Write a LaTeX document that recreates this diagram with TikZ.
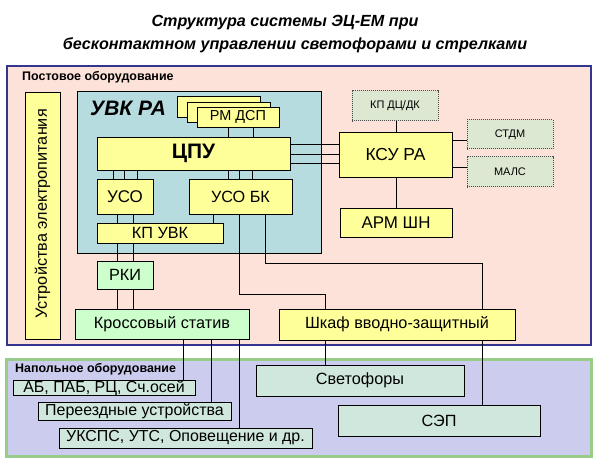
\documentclass[tikz,border=0pt]{standalone}
\usepackage{fontspec}
\setmainfont{Liberation Sans}
\definecolor{pinkbg}{HTML}{FDE2DA}
\definecolor{navy}{HTML}{34358F}
\definecolor{tealbg}{HTML}{B6DCDF}
\definecolor{ybox}{HTML}{FFFF99}
\definecolor{gbox}{HTML}{CCFFCC}
\definecolor{dbox}{HTML}{DDE8D2}
\definecolor{fbox}{HTML}{D0E7DD}
\definecolor{lav}{HTML}{CCCCEE}
\definecolor{fgreen}{HTML}{99CC88}
\tikzset{
  bx/.style={draw=black, line width=0.8bp, inner sep=0pt, font=\fontsize{16.3}{16.3}\selectfont},
  yb/.style={bx, fill=ybox},
  gb/.style={bx, fill=gbox},
  db/.style={draw=black!70, densely dotted, line width=1bp, fill=dbox, inner sep=0pt, font=\fontsize{11}{11}\selectfont},
  fb/.style={bx, fill=fbox},
  conn/.style={draw=black, line width=0.8bp},
  lbl/.style={font=\fontsize{12.5}{12.5}\selectfont\bfseries, inner sep=0pt, anchor=west},
  ttl/.style={font=\fontsize{16.2}{16.2}\selectfont\bfseries\itshape, inner sep=0pt, anchor=base},
}
\begin{document}
\begin{tikzpicture}[x=1bp,y=-1bp]
\useasboundingbox (0,0) rectangle (598,462);
\fill[white] (0,0) rectangle (598,462);
% title
\node[ttl] (title1) at (285,27) {Структура системы ЭЦ-ЕМ при};
\node[ttl] (title2) at (295,50) {бесконтактном управлении светофорами и стрелками};
% big areas
\node[draw=navy, line width=2.5bp, fill=pinkbg, inner sep=0pt, minimum width=584bp, minimum height=279bp] (post) at (299,205.5) {};
\node[draw=fgreen, line width=3bp, fill=lav, inner sep=0pt, minimum width=584bp, minimum height=97bp] (floor) at (299,407.5) {};
\node[lbl] (postlbl) at (22,77) {Постовое оборудование};
\node[lbl] (floorlbl) at (15,369) {Напольное оборудование};
% power
\node[yb, minimum width=35bp, minimum height=247bp] (power) at (42.5,215.5) {};
\node[rotate=90, font=\fontsize{16.3}{16.3}\selectfont, inner sep=0pt] (powertxt) at (42.5,214) {Устройства электропитания};
% UVK
\node[draw=black, line width=0.8bp, fill=tealbg, inner sep=0pt, minimum width=244bp, minimum height=162bp] (uvk) at (199,172) {};
\node[font=\fontsize{21}{21}\selectfont\bfseries\itshape, inner sep=0pt, anchor=west] (uvktxt) at (90,108) {УВК РА};
\node[yb, minimum width=83bp, minimum height=21bp] (rm3) at (218.5,106.5) {};
\node[yb, minimum width=83bp, minimum height=20bp] (rm2) at (228.5,112) {};
\node[yb, minimum width=82bp, minimum height=20bp, font=\fontsize{14.5}{14.5}\selectfont] (rm1) at (238,117) {РМ ДСП};
\node[yb, minimum width=193bp, minimum height=33bp, font=\fontsize{21}{21}\selectfont\bfseries] (cpu) at (193.5,153.5) {ЦПУ};
\node[yb, minimum width=56bp, minimum height=35bp, font=\fontsize{17}{17}\selectfont] (uso) at (125,196.5) {УСО};
\node[yb, minimum width=103bp, minimum height=35bp, font=\fontsize{16.3}{16.3}\selectfont] (usobk) at (240.5,196.5) {УСО БК};
\node[yb, minimum width=126bp, minimum height=20bp] (kpuvk) at (160,233) {КП УВК};
% lower post
\node[gb, minimum width=56bp, minimum height=28bp] (rki) at (125,275) {РКИ};
\node[gb, minimum width=174bp, minimum height=30bp] (kross) at (162,324) {Кроссовый статив};
\node[yb, minimum width=236bp, minimum height=31bp] (shkaf) at (397,324.5) {Шкаф вводно-защитный};
% KSU
\node[yb, minimum width=113bp, minimum height=45bp, font=\fontsize{17.5}{17.5}\selectfont] (ksu) at (395.5,154.5) {КСУ РА};
\node[db, minimum width=86bp, minimum height=30bp] (kpdc) at (395,106) {КП ДЦ/ДК};
\node[db, minimum width=86bp, minimum height=29bp] (stdm) at (510,134.5) {СТДМ};
\node[db, minimum width=86bp, minimum height=30bp] (mals) at (510,172) {МАЛС};
\node[yb, minimum width=112bp, minimum height=29bp, font=\fontsize{17}{17}\selectfont] (arm) at (396,222.5) {АРМ ШН};
% floor boxes
\node[fb, minimum width=182bp, minimum height=14bp, font=\fontsize{16}{16}\selectfont] (ab) at (104,388) {\raisebox{-3bp}{АБ, ПАБ, РЦ, Сч.осей}};
\node[fb, minimum width=193bp, minimum height=18bp, font=\fontsize{16}{16}\selectfont] (pereezd) at (134.5,411) {Переездные устройства};
\node[fb, minimum width=253bp, minimum height=20bp, font=\fontsize{16}{16}\selectfont] (uksps) at (185.5,438) {УКСПС, УТС, Оповещение и др.};
\node[fb, minimum width=208bp, minimum height=31bp] (svet) at (360,380.5) {Светофоры};
\node[fb, minimum width=202bp, minimum height=31bp] (sep) at (439,420.5) {СЭП};
% connectors
\foreach \xx in {228,253} \draw[conn] (rm1.south -| \xx,0) -- (cpu.north -| \xx,0);
\foreach \xx in {113,124,137} \draw[conn] (cpu.south -| \xx,0) -- (uso.north -| \xx,0);
\foreach \xx in {228,239,252} \draw[conn] (cpu.south -| \xx,0) -- (usobk.north -| \xx,0);
\foreach \xx in {117,133} {
  \draw[conn] (uso.south -| \xx,0) -- (kpuvk.north -| \xx,0);
  \draw[conn] (kpuvk.south -| \xx,0) -- (rki.north -| \xx,0);
  \draw[conn] (rki.south -| \xx,0) -- (kross.north -| \xx,0);
}
\draw[conn] (usobk.south -| 213,0) -- (kpuvk.north -| 213,0);
\foreach \yy in {144,154,163} \draw[conn] (cpu.east |- 0,\yy) -- (ksu.west |- 0,\yy);
\draw[conn] (kpdc.south -| 396,0) -- (ksu.north -| 396,0);
\draw[conn] (ksu.east |- 0,140) -- (stdm.west |- 0,140);
\draw[conn] (ksu.east |- 0,167) -- (mals.west |- 0,167);
\draw[conn] (ksu.south -| 396,0) -- (arm.north -| 396,0);
\draw[conn] (usobk.south -| 239,0) -- ++(0,80) -| (shkaf.north -| 325,0);
\draw[conn] (usobk.south -| 265,0) -- ++(0,49) -| (shkaf.north -| 482,0);
\draw[conn] (shkaf.south -| 325,0) -- (svet.north -| 325,0);
\draw[conn] (shkaf.south -| 482,0) -- (sep.north -| 482,0);
\draw[conn] (kross.south -| 183,0) -- (ab.north -| 183,0);
\draw[conn] (kross.south -| 211,0) -- (pereezd.north -| 211,0);
\draw[conn] (kross.south -| 239,0) -- (uksps.north -| 239,0);
\end{tikzpicture}
\end{document}
